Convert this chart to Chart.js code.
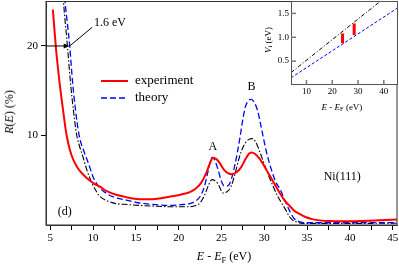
<!DOCTYPE html>
<html>
<head>
<meta charset="utf-8">
<script src="https://cdn.jsdelivr.net/npm/chart.js@4.4.1/dist/chart.umd.min.js"></script>
<style>
  body { margin: 0; background: #fff; }
  #wrap { position: relative; width: 399px; height: 266px; font-family: "Liberation Serif", serif; color: #000; }
  canvas { position: absolute; }
  .lbl { position: absolute; white-space: nowrap; line-height: 1; transform: translate(-50%, -50%); }
  .rot { transform: translate(-50%, -50%) rotate(-90deg); }
  sub { font-size: 70%; vertical-align: -0.3em; line-height: 0; }
</style>
</head>
<body>
<div id="wrap">
  <canvas id="main" width="399" height="266" style="left:0;top:0"></canvas>
  <canvas id="inset" width="141" height="115" style="left:258px;top:0"></canvas>
  <div class="lbl rot" style="left:9px;top:112px;font-size:12px"><i>R</i>(<i>E</i>) (%)</div>
  <div class="lbl" style="left:224px;top:256px;font-size:12px"><i>E</i> - <i>E</i><sub>F</sub> (eV)</div>
  <div class="lbl rot" style="left:268px;top:40px;font-size:9px"><i>V</i><sub>i</sub> (eV)</div>
  <div class="lbl" style="left:342px;top:107px;font-size:9px"><i>E</i> - <i>E</i><sub>F</sub> (eV)</div>
</div>
<script>
// experiment (red, solid)
const expE = [5.3, 5.64, 6.0, 6.3, 6.6, 6.9, 7.3, 7.7, 8.2, 8.8, 9.6, 10.2, 10.8, 11.6, 12.7, 14.0, 15.4, 16.5, 17.5, 18.9,
  20.2, 21.3, 22.0, 22.6, 23.2, 23.6, 24.0, 24.4, 24.8, 25.3, 25.8, 26.2, 26.8, 27.3, 27.8, 28.2, 28.5, 28.9, 29.4, 30.0,
  30.6, 31.2, 31.8, 32.4, 32.9, 33.5, 34.1, 34.8, 35.6, 36.5, 37.6, 39.0, 41.4, 43.5, 45.5];
const expR = [24.1, 20.0, 16.6, 14.2, 12.0, 10.0, 8.3, 7.2, 6.3, 5.6, 4.9, 4.5, 4.2, 3.7, 3.3, 3.0, 2.8, 2.78, 2.85, 3.07,
  3.3, 3.6, 4.0, 4.6, 5.7, 6.7, 7.45, 7.3, 6.85, 6.1, 5.7, 5.6, 5.85, 6.4, 7.3, 7.9, 8.05, 7.9, 7.4, 6.5,
  5.5, 4.5, 3.5, 2.6, 2.1, 1.5, 1.15, 0.8, 0.56, 0.42, 0.34, 0.32, 0.34, 0.42, 0.53];

// theory (blue, dashed)
const theoE = [6.6, 6.7, 7.0, 7.27, 7.6, 7.9, 8.36, 9.0, 9.5, 10.0, 10.6, 11.55, 12.5, 13.5, 15.0, 16.5, 17.6, 19.0, 20.5, 21.3,
  22.0, 22.5, 23.0, 23.4, 23.9, 24.2, 24.6, 25.0, 25.3, 25.7, 26.1, 26.6, 27.1, 27.5, 27.8, 28.2, 28.5, 28.8, 29.2, 29.7,
  30.2, 30.8, 31.4, 31.8, 32.3, 32.9, 33.5, 34.2, 35.0, 40.0, 45.5];
const theoR = [26.5, 25.2, 22.5, 20.0, 16.0, 13.2, 10.0, 8.0, 6.7, 5.3, 4.3, 3.45, 3.0, 2.78, 2.45, 2.25, 2.15, 2.1, 2.2, 2.3,
  2.6, 3.1, 4.2, 5.8, 7.5, 7.2, 6.1, 4.8, 4.3, 4.3, 4.9, 6.8, 9.4, 11.8, 13.2, 13.9, 14.0, 13.7, 12.8, 10.6,
  8.3, 6.2, 4.6, 4.0, 2.9, 1.6, 0.6, 0.25, 0.15, 0.15, 0.18];

// second calculation (black, dash-dot)
const calcE = [6.4, 6.5, 7.0, 7.4, 7.7, 8.05, 8.4, 8.8, 9.3, 9.8, 10.3, 10.8, 11.7, 12.7, 14.0, 15.4, 17.6, 19.0, 21.0, 22.0,
  22.5, 23.0, 23.5, 23.9, 24.2, 24.6, 25.2, 25.6, 26.1, 26.6, 27.1, 27.5, 27.9, 28.3, 28.6, 29.0, 29.4, 29.9, 30.4, 31.0,
  31.6, 32.0, 32.5, 32.9, 33.3, 33.9, 34.5, 40.0, 45.5];
const calcR = [27.0, 25.5, 20.0, 15.5, 12.8, 10.2, 8.8, 7.6, 6.0, 4.75, 3.8, 3.1, 2.6, 2.3, 2.2, 2.1, 2.0, 1.95, 1.95, 2.1,
  2.4, 3.2, 4.4, 5.0, 4.9, 4.5, 3.5, 3.6, 4.2, 5.7, 7.56, 8.6, 9.25, 9.55, 9.6, 9.2, 8.3, 7.0, 5.7, 4.3,
  3.07, 2.4, 1.6, 0.9, 0.45, 0.2, 0.08, 0.08, 0.1];

const xTicks = [5, 7.5, 10, 12.5, 15, 17.5, 20, 22.5, 25, 27.5, 30, 32.5, 35, 37.5, 40, 42.5, 45];
const yTicks = [10, 20];

// inset: inner potential V_i against energy
const viE = [4, 45.5];
const viCalc = [0.26, 2.05];
const viTheo = [0.15, 1.62];
const peakE = [24, 28.5];
const peakLo = [0.875, 1.05];
const peakHi = [1.08, 1.29];
const insetXTicks = [10, 20, 30, 40];
const insetYTicks = [0.5, 1.0, 1.5];

const notes = [
  { text: 'A', x: 24.0, y: 8.7 },
  { text: 'B', x: 28.5, y: 15.4 },
  { text: 'Ni(111)', x: 39.1, y: 5.3 },
  { text: '(d)', x: 6.7, y: 1.4 }
];

Chart.defaults.font.family = '"Liberation Serif", serif';
Chart.defaults.color = '#000';

function pts(xs, ys) {
  return xs.map((v, i) => ({ x: v, y: ys[i] }));
}

// fixed axis sizes, and no extra room for half labels at the ends
function fixX(h) {
  return axis => { axis.height = h; axis.paddingLeft = 0; axis.paddingRight = 0; };
}
function fixY(w) {
  return axis => { axis.width = w; axis.paddingTop = 0; axis.paddingBottom = 0; };
}

const mainDecor = {
  id: 'mainDecor',
  afterDraw(chart) {
    const { ctx, chartArea: a, scales: { x, y } } = chart;
    ctx.save();
    ctx.strokeStyle = '#333';
    ctx.lineWidth = 1;
    ctx.strokeRect(a.left, a.top + 0.5, a.right - a.left, a.bottom - a.top - 0.5);

    ctx.fillStyle = '#000';
    ctx.font = '12px "Liberation Serif"';
    ctx.textAlign = 'center';
    ctx.textBaseline = 'middle';
    notes.forEach(n => ctx.fillText(n.text, x.getPixelForValue(n.x), y.getPixelForValue(n.y)));

    // the 1.6 eV shift arrow
    const tx = x.getPixelForValue(7.27), ty = y.getPixelForValue(20);
    ctx.strokeStyle = '#000';
    ctx.beginPath(); ctx.moveTo(a.left, ty); ctx.lineTo(tx - 4, ty); ctx.stroke();
    ctx.beginPath(); ctx.moveTo(tx, ty); ctx.lineTo(tx - 6, ty - 2.5); ctx.lineTo(tx - 6, ty + 2.5); ctx.closePath(); ctx.fill();
    ctx.beginPath(); ctx.moveTo(tx, ty); ctx.lineTo(x.getPixelForValue(9.9), y.getPixelForValue(22.1)); ctx.stroke();
    ctx.textAlign = 'left';
    ctx.fillText('1.6 eV', x.getPixelForValue(10.1), y.getPixelForValue(22.6));

    // legend
    ctx.font = '13px "Liberation Serif"';
    chart.data.datasets.slice(0, 2).forEach((ds, i) => {
      const ly = 81 + i * 17;
      ctx.strokeStyle = ds.borderColor;
      ctx.lineWidth = ds.borderWidth;
      ctx.setLineDash(ds.borderDash || []);
      ctx.beginPath(); ctx.moveTo(101, ly); ctx.lineTo(128, ly); ctx.stroke();
      ctx.setLineDash([]);
      ctx.fillText(ds.label, 135, ly);
    });
    ctx.restore();
  }
};

new Chart(document.getElementById('main'), {
  type: 'line',
  data: {
    datasets: [
      { label: 'experiment', data: pts(expE, expR), borderColor: '#ff0000', borderWidth: 2 },
      { label: 'theory', data: pts(theoE, theoR), borderColor: '#0000ff', borderWidth: 1.3, borderDash: [6, 3] },
      { label: 'calc', data: pts(calcE, calcR), borderColor: '#000000', borderWidth: 1.1, borderDash: [6, 2, 1.5, 2] }
    ]
  },
  options: {
    responsive: false,
    animation: false,
    layout: { autoPadding: false, padding: { top: 1, right: 2, left: 0, bottom: 0 } },
    elements: { point: { radius: 0 }, line: { cubicInterpolationMode: 'monotone', fill: false } },
    plugins: { legend: { display: false }, tooltip: { enabled: false } },
    scales: {
      x: {
        type: 'linear', min: 4.5, max: 45.5,
        afterBuildTicks: axis => { axis.ticks = xTicks.map(v => ({ value: v })); },
        afterFit: fixX(41),
        ticks: { font: { size: 11 }, padding: 2, autoSkip: false, maxRotation: 0,
          callback: v => (v % 5 === 0 ? v : '') },
        grid: { drawOnChartArea: false, tickLength: 5, color: '#000' },
        border: { color: '#333' }
      },
      y: {
        type: 'linear', min: -0.1, max: 25.05,
        afterBuildTicks: axis => { axis.ticks = yTicks.map(v => ({ value: v })); },
        afterFit: fixY(46),
        ticks: { font: { size: 11 }, padding: 3 },
        grid: { drawOnChartArea: false, tickLength: 5, color: '#000' },
        border: { color: '#333' }
      }
    }
  },
  plugins: [mainDecor]
});

const insetDecor = {
  id: 'insetDecor',
  beforeDraw(chart) {
    const { ctx, chartArea: a } = chart;
    ctx.save();
    ctx.fillStyle = '#fff';
    ctx.fillRect(a.left, a.top, a.right - a.left, a.bottom - a.top);
    ctx.restore();
  },
  afterDraw(chart) {
    const { ctx, chartArea: a, scales: { x, y } } = chart;
    ctx.save();
    ctx.strokeStyle = '#555';
    ctx.lineWidth = 1;
    ctx.strokeRect(a.left + 0.5, a.top + 0.5, a.right - a.left - 1, a.bottom - a.top - 1);
    ctx.lineWidth = 1.5;
    ctx.strokeStyle = '#777';
    insetXTicks.forEach(v => {
      const px = x.getPixelForValue(v);
      ctx.beginPath(); ctx.moveTo(px, a.bottom); ctx.lineTo(px, a.bottom - 5); ctx.stroke();
    });
    insetYTicks.forEach(v => {
      const py = y.getPixelForValue(v);
      ctx.beginPath(); ctx.moveTo(a.left, py); ctx.lineTo(a.left + 5, py); ctx.stroke();
    });
    ctx.restore();
  }
};

const peakData = [];
peakE.forEach((e, i) => {
  if (i > 0) peakData.push({ x: e - 1, y: null });
  peakData.push({ x: e, y: peakLo[i] }, { x: e, y: peakHi[i] });
});

new Chart(document.getElementById('inset'), {
  type: 'line',
  data: {
    datasets: [
      { data: peakData, borderColor: '#ff0000', borderWidth: 3, spanGaps: false, borderCapStyle: 'butt' },
      { data: pts(viE, viTheo), borderColor: '#0000ff', borderWidth: 1, borderDash: [3, 2] },
      { data: pts(viE, viCalc), borderColor: '#000000', borderWidth: 1, borderDash: [4, 2, 1, 2] }
    ]
  },
  options: {
    responsive: false,
    animation: false,
    layout: { autoPadding: false, padding: { top: 1, right: 1, left: 0, bottom: 0 } },
    elements: { point: { radius: 0 }, line: { tension: 0, fill: false } },
    plugins: { legend: { display: false }, tooltip: { enabled: false } },
    scales: {
      x: {
        type: 'linear', min: 4, max: 45.5,
        afterBuildTicks: axis => { axis.ticks = insetXTicks.map(v => ({ value: v })); },
        afterFit: fixX(30),
        ticks: { font: { size: 9 }, padding: 1, maxRotation: 0 },
        grid: { display: false, drawTicks: false, tickLength: 0 },
        border: { display: false }
      },
      y: {
        type: 'linear', min: 0, max: 1.76,
        afterBuildTicks: axis => { axis.ticks = insetYTicks.map(v => ({ value: v })); },
        afterFit: fixY(33),
        ticks: { font: { size: 9 }, padding: 2, callback: v => v.toFixed(1) },
        grid: { display: false, drawTicks: false, tickLength: 0 },
        border: { display: false }
      }
    }
  },
  plugins: [insetDecor]
});
</script>
</body>
</html>
